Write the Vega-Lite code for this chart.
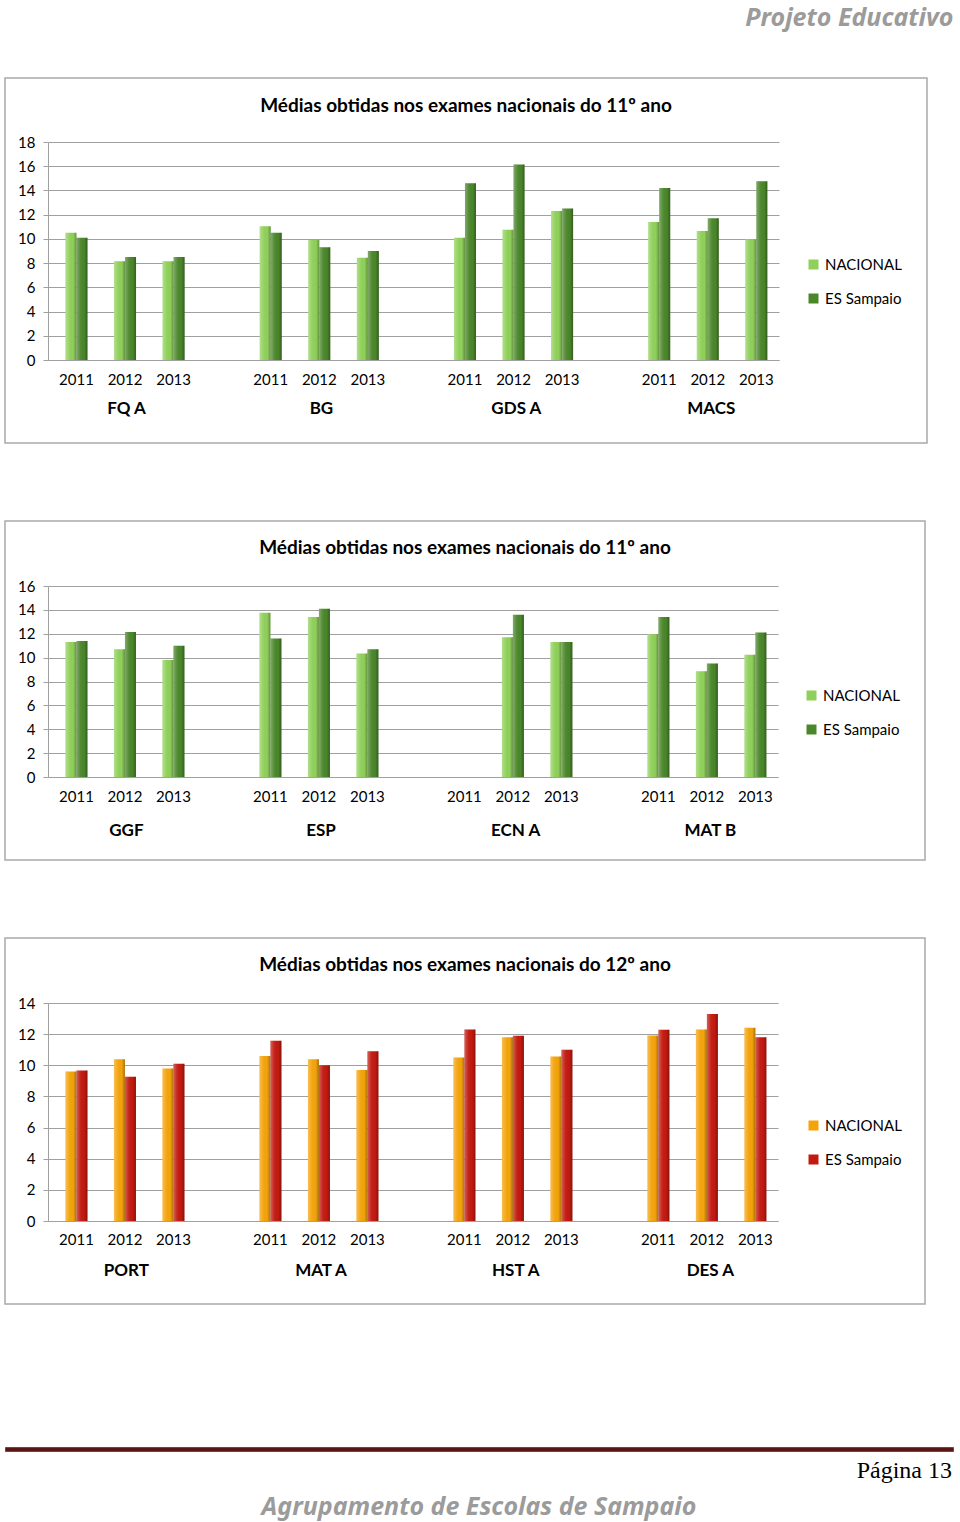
{
  "$schema": "https://vega.github.io/schema/vega-lite/v6.json",
  "padding": {"left": 4, "top": 6, "right": 8, "bottom": 0},
  "background": "white",
  "title": {"text": "Projeto Educativo", "anchor": "end", "frame": "bounds", "font": "Noto Sans", "fontStyle": "italic", "fontWeight": "bold", "fontSize": 25, "color": "#9b9b9b", "offset": 46, "baseline": "top"},
  "datasets": {
    "p1": [
      {"cat": "FQ A|2011", "series": "NACIONAL", "value": 10.5},
      {"cat": "FQ A|2011", "series": "ES Sampaio", "value": 10.1},
      {"cat": "FQ A|2012", "series": "NACIONAL", "value": 8.15},
      {"cat": "FQ A|2012", "series": "ES Sampaio", "value": 8.5},
      {"cat": "FQ A|2013", "series": "NACIONAL", "value": 8.15},
      {"cat": "FQ A|2013", "series": "ES Sampaio", "value": 8.5},
      {"cat": "BG|2011", "series": "NACIONAL", "value": 11.05},
      {"cat": "BG|2011", "series": "ES Sampaio", "value": 10.5},
      {"cat": "BG|2012", "series": "NACIONAL", "value": 9.9},
      {"cat": "BG|2012", "series": "ES Sampaio", "value": 9.3},
      {"cat": "BG|2013", "series": "NACIONAL", "value": 8.45},
      {"cat": "BG|2013", "series": "ES Sampaio", "value": 9.0},
      {"cat": "GDS A|2011", "series": "NACIONAL", "value": 10.1},
      {"cat": "GDS A|2011", "series": "ES Sampaio", "value": 14.6},
      {"cat": "GDS A|2012", "series": "NACIONAL", "value": 10.75},
      {"cat": "GDS A|2012", "series": "ES Sampaio", "value": 16.15},
      {"cat": "GDS A|2013", "series": "NACIONAL", "value": 12.3},
      {"cat": "GDS A|2013", "series": "ES Sampaio", "value": 12.5},
      {"cat": "MACS|2011", "series": "NACIONAL", "value": 11.4},
      {"cat": "MACS|2011", "series": "ES Sampaio", "value": 14.2},
      {"cat": "MACS|2012", "series": "NACIONAL", "value": 10.65},
      {"cat": "MACS|2012", "series": "ES Sampaio", "value": 11.7},
      {"cat": "MACS|2013", "series": "NACIONAL", "value": 9.95},
      {"cat": "MACS|2013", "series": "ES Sampaio", "value": 14.75}
    ],
    "p2": [
      {"cat": "GGF|2011", "series": "NACIONAL", "value": 11.3},
      {"cat": "GGF|2011", "series": "ES Sampaio", "value": 11.4},
      {"cat": "GGF|2012", "series": "NACIONAL", "value": 10.7},
      {"cat": "GGF|2012", "series": "ES Sampaio", "value": 12.15},
      {"cat": "GGF|2013", "series": "NACIONAL", "value": 9.8},
      {"cat": "GGF|2013", "series": "ES Sampaio", "value": 11.0},
      {"cat": "ESP|2011", "series": "NACIONAL", "value": 13.75},
      {"cat": "ESP|2011", "series": "ES Sampaio", "value": 11.6},
      {"cat": "ESP|2012", "series": "NACIONAL", "value": 13.4},
      {"cat": "ESP|2012", "series": "ES Sampaio", "value": 14.1},
      {"cat": "ESP|2013", "series": "NACIONAL", "value": 10.35},
      {"cat": "ESP|2013", "series": "ES Sampaio", "value": 10.7},
      {"cat": "ECN A|2012", "series": "NACIONAL", "value": 11.7},
      {"cat": "ECN A|2012", "series": "ES Sampaio", "value": 13.6},
      {"cat": "ECN A|2013", "series": "NACIONAL", "value": 11.3},
      {"cat": "ECN A|2013", "series": "ES Sampaio", "value": 11.3},
      {"cat": "MAT B|2011", "series": "NACIONAL", "value": 11.95},
      {"cat": "MAT B|2011", "series": "ES Sampaio", "value": 13.4},
      {"cat": "MAT B|2012", "series": "NACIONAL", "value": 8.85},
      {"cat": "MAT B|2012", "series": "ES Sampaio", "value": 9.5},
      {"cat": "MAT B|2013", "series": "NACIONAL", "value": 10.25},
      {"cat": "MAT B|2013", "series": "ES Sampaio", "value": 12.1}
    ],
    "p3": [
      {"cat": "PORT|2011", "series": "NACIONAL", "value": 9.6},
      {"cat": "PORT|2011", "series": "ES Sampaio", "value": 9.67},
      {"cat": "PORT|2012", "series": "NACIONAL", "value": 10.38},
      {"cat": "PORT|2012", "series": "ES Sampaio", "value": 9.26},
      {"cat": "PORT|2013", "series": "NACIONAL", "value": 9.8},
      {"cat": "PORT|2013", "series": "ES Sampaio", "value": 10.1},
      {"cat": "MAT A|2011", "series": "NACIONAL", "value": 10.6},
      {"cat": "MAT A|2011", "series": "ES Sampaio", "value": 11.58},
      {"cat": "MAT A|2012", "series": "NACIONAL", "value": 10.38},
      {"cat": "MAT A|2012", "series": "ES Sampaio", "value": 10.0},
      {"cat": "MAT A|2013", "series": "NACIONAL", "value": 9.7},
      {"cat": "MAT A|2013", "series": "ES Sampaio", "value": 10.9},
      {"cat": "HST A|2011", "series": "NACIONAL", "value": 10.5},
      {"cat": "HST A|2011", "series": "ES Sampaio", "value": 12.3},
      {"cat": "HST A|2012", "series": "NACIONAL", "value": 11.8},
      {"cat": "HST A|2012", "series": "ES Sampaio", "value": 11.9},
      {"cat": "HST A|2013", "series": "NACIONAL", "value": 10.57},
      {"cat": "HST A|2013", "series": "ES Sampaio", "value": 11.0},
      {"cat": "DES A|2011", "series": "NACIONAL", "value": 11.92},
      {"cat": "DES A|2011", "series": "ES Sampaio", "value": 12.29},
      {"cat": "DES A|2012", "series": "NACIONAL", "value": 12.3},
      {"cat": "DES A|2012", "series": "ES Sampaio", "value": 13.3},
      {"cat": "DES A|2013", "series": "NACIONAL", "value": 12.41},
      {"cat": "DES A|2013", "series": "ES Sampaio", "value": 11.8}
    ],
    "foot": [{"t": "Agrupamento de Escolas de Sampaio"}],
    "blank": [{"t": ""}]
  },
  "spacing": 137,
  "resolve": {"scale": {"color": "independent"}, "legend": {"color": "independent"}},
  "vconcat": [
    {
      "spacing": 76,
      "resolve": {"scale": {"color": "independent"}, "legend": {"color": "independent"}},
      "vconcat": [
        {
          "width": 922, "height": 365,
          "view": {"stroke": "#a9a9a9", "strokeWidth": 1.5, "fill": "white"},
          "title": {"text": "Médias obtidas nos exames nacionais do 11º ano", "frame": "group", "anchor": "middle", "orient": "top", "offset": -47, "baseline": "middle", "fontSize": 19, "fontWeight": "bold", "font": "Lato", "color": "black"},
          "data": {"name": "p1"},
          "layer": [
            {
              "layer": [
                {
                  "mark": {"type": "bar"},
                  "encoding": {
                    "x": {"field": "cat", "type": "nominal", "sort": null,
                      "scale": {"domain": ["FQ A|2011", "FQ A|2012", "FQ A|2013", "_1", "BG|2011", "BG|2012", "BG|2013", "_2", "GDS A|2011", "GDS A|2012", "GDS A|2013", "_3", "MACS|2011", "MACS|2012", "MACS|2013"], "range": [43, 774], "paddingInner": 0.547, "paddingOuter": 0.3, "align": 0.6},
                      "axis": {"orient": "bottom", "offset": -83, "labelExpr": "indexof(datum.value,'|') > 0 ? split(datum.value,'|')[1] : ''", "ticks": false, "labelPadding": 12, "labelFontSize": 15, "labelColor": "black", "grid": false, "title": null, "labelAngle": 0, "domainColor": "#a0a0a0", "labelOverlap": false}},
                    "xOffset": {"field": "series", "type": "nominal", "scale": {"domain": ["NACIONAL", "ES Sampaio"], "paddingInner": 0, "paddingOuter": 0}},
                    "y": {"field": "value", "type": "quantitative", "scale": {"domain": [0, 18], "range": [282, 64], "nice": false},
                      "axis": {"orient": "left", "offset": -43, "values": [0, 2, 4, 6, 8, 10, 12, 14, 16, 18], "grid": true, "gridColor": "#a0a0a0", "domainColor": "#a0a0a0", "tickColor": "#a0a0a0", "tickSize": 5, "labelPadding": 8, "labelFontSize": 15, "labelColor": "black", "title": null}},
                    "color": {"field": "series", "type": "nominal", "scale": {"domain": ["NACIONAL", "ES Sampaio"], "range": ["#8fd05a", "#4a862a"]},
                      "legend": {"orient": "none", "legendX": 801, "legendY": 179, "title": null, "symbolType": "square", "symbolSize": 100, "labelFontSize": 15, "rowPadding": 18, "padding": 0, "labelOffset": 4, "symbolStrokeWidth": 0, "labelColor": "black"}}
                  }
                },
                {
                  "mark": {"type": "bar", "fill": {"gradient": "linear", "x1": 0, "y1": 0, "x2": 1, "y2": 0, "stops": [{"offset": 0, "color": "rgba(255,255,255,0.3)"}, {"offset": 0.35, "color": "rgba(255,255,255,0.05)"}, {"offset": 0.7, "color": "rgba(0,0,0,0)"}, {"offset": 1, "color": "rgba(0,0,0,0.3)"}]}},
                  "encoding": {
                    "x": {"field": "cat", "type": "nominal", "sort": null},
                    "xOffset": {"field": "series", "type": "nominal"},
                    "y": {"field": "value", "type": "quantitative"}
                  }
                }
              ]
            },
            {
              "mark": {"type": "text"},
              "encoding": {
                "x": {"field": "cat", "type": "nominal", "sort": null,
                  "scale": {"domain": ["FQ A|2011", "FQ A|2012", "FQ A|2013", "_1", "BG|2011", "BG|2012", "BG|2013", "_2", "GDS A|2011", "GDS A|2012", "GDS A|2013", "_3", "MACS|2011", "MACS|2012", "MACS|2013"], "range": [43, 774], "paddingInner": 0.547, "paddingOuter": 0.3, "align": 0.6},
                  "axis": {"orient": "bottom", "offset": -83, "labelExpr": "indexof(datum.value,'|2012') > 0 ? split(datum.value,'|')[0] : ''", "ticks": false, "domain": false, "grid": false, "labelPadding": 40, "labelFontSize": 17, "labelFontWeight": "bold", "labelColor": "black", "title": null, "labelAngle": 0, "labelOverlap": false}},
                "text": {"value": ""}
              }
            }
          ],
          "resolve": {"scale": {"x": "independent"}, "axis": {"x": "independent"}}
        },
        {
          "width": 920, "height": 339,
          "view": {"stroke": "#a9a9a9", "strokeWidth": 1.5, "fill": "white"},
          "title": {"text": "Médias obtidas nos exames nacionais do 11º ano", "frame": "group", "anchor": "middle", "orient": "top", "offset": -46, "baseline": "middle", "fontSize": 19, "fontWeight": "bold", "font": "Lato", "color": "black"},
          "data": {"name": "p2"},
          "layer": [
            {
              "layer": [
                {
                  "mark": {"type": "bar"},
                  "encoding": {
                    "x": {"field": "cat", "type": "nominal", "sort": null,
                      "scale": {"domain": ["GGF|2011", "GGF|2012", "GGF|2013", "_1", "ESP|2011", "ESP|2012", "ESP|2013", "_2", "ECN A|2011", "ECN A|2012", "ECN A|2013", "_3", "MAT B|2011", "MAT B|2012", "MAT B|2013"], "range": [43, 773], "paddingInner": 0.547, "paddingOuter": 0.3, "align": 0.6},
                      "axis": {"orient": "bottom", "offset": -83, "labelExpr": "indexof(datum.value,'|') > 0 ? split(datum.value,'|')[1] : ''", "ticks": false, "labelPadding": 12, "labelFontSize": 15, "labelColor": "black", "grid": false, "title": null, "labelAngle": 0, "domainColor": "#a0a0a0", "labelOverlap": false}},
                    "xOffset": {"field": "series", "type": "nominal", "scale": {"domain": ["NACIONAL", "ES Sampaio"], "paddingInner": 0, "paddingOuter": 0}},
                    "y": {"field": "value", "type": "quantitative", "scale": {"domain": [0, 16], "range": [256, 65], "nice": false},
                      "axis": {"orient": "left", "offset": -43, "values": [0, 2, 4, 6, 8, 10, 12, 14, 16], "grid": true, "gridColor": "#a0a0a0", "domainColor": "#a0a0a0", "tickColor": "#a0a0a0", "tickSize": 5, "labelPadding": 8, "labelFontSize": 15, "labelColor": "black", "title": null}},
                    "color": {"field": "series", "type": "nominal", "scale": {"domain": ["NACIONAL", "ES Sampaio"], "range": ["#8fd05a", "#4a862a"]},
                      "legend": {"orient": "none", "legendX": 799, "legendY": 167, "title": null, "symbolType": "square", "symbolSize": 100, "labelFontSize": 15, "rowPadding": 18, "padding": 0, "labelOffset": 4, "symbolStrokeWidth": 0, "labelColor": "black"}}
                  }
                },
                {
                  "mark": {"type": "bar", "fill": {"gradient": "linear", "x1": 0, "y1": 0, "x2": 1, "y2": 0, "stops": [{"offset": 0, "color": "rgba(255,255,255,0.3)"}, {"offset": 0.35, "color": "rgba(255,255,255,0.05)"}, {"offset": 0.7, "color": "rgba(0,0,0,0)"}, {"offset": 1, "color": "rgba(0,0,0,0.3)"}]}},
                  "encoding": {
                    "x": {"field": "cat", "type": "nominal", "sort": null},
                    "xOffset": {"field": "series", "type": "nominal"},
                    "y": {"field": "value", "type": "quantitative"}
                  }
                }
              ]
            },
            {
              "mark": {"type": "text"},
              "encoding": {
                "x": {"field": "cat", "type": "nominal", "sort": null,
                  "scale": {"domain": ["GGF|2011", "GGF|2012", "GGF|2013", "_1", "ESP|2011", "ESP|2012", "ESP|2013", "_2", "ECN A|2011", "ECN A|2012", "ECN A|2013", "_3", "MAT B|2011", "MAT B|2012", "MAT B|2013"], "range": [43, 773], "paddingInner": 0.547, "paddingOuter": 0.3, "align": 0.6},
                  "axis": {"orient": "bottom", "offset": -83, "labelExpr": "indexof(datum.value,'|2012') > 0 ? split(datum.value,'|')[0] : ''", "ticks": false, "domain": false, "grid": false, "labelPadding": 45, "labelFontSize": 17, "labelFontWeight": "bold", "labelColor": "black", "title": null, "labelAngle": 0, "labelOverlap": false}},
                "text": {"value": ""}
              }
            }
          ],
          "resolve": {"scale": {"x": "independent"}, "axis": {"x": "independent"}}
        },
        {
          "width": 920, "height": 366,
          "view": {"stroke": "#a9a9a9", "strokeWidth": 1.5, "fill": "white"},
          "title": {"text": "Médias obtidas nos exames nacionais do 12º ano", "frame": "group", "anchor": "middle", "orient": "top", "offset": -46, "baseline": "middle", "fontSize": 19, "fontWeight": "bold", "font": "Lato", "color": "black"},
          "data": {"name": "p3"},
          "layer": [
            {
              "layer": [
                {
                  "mark": {"type": "bar"},
                  "encoding": {
                    "x": {"field": "cat", "type": "nominal", "sort": null,
                      "scale": {"domain": ["PORT|2011", "PORT|2012", "PORT|2013", "_1", "MAT A|2011", "MAT A|2012", "MAT A|2013", "_2", "HST A|2011", "HST A|2012", "HST A|2013", "_3", "DES A|2011", "DES A|2012", "DES A|2013"], "range": [43, 773], "paddingInner": 0.547, "paddingOuter": 0.3, "align": 0.6},
                      "axis": {"orient": "bottom", "offset": -83, "labelExpr": "indexof(datum.value,'|') > 0 ? split(datum.value,'|')[1] : ''", "ticks": false, "labelPadding": 11, "labelFontSize": 15, "labelColor": "black", "grid": false, "title": null, "labelAngle": 0, "domainColor": "#a0a0a0", "labelOverlap": false}},
                    "xOffset": {"field": "series", "type": "nominal", "scale": {"domain": ["NACIONAL", "ES Sampaio"], "paddingInner": 0, "paddingOuter": 0}},
                    "y": {"field": "value", "type": "quantitative", "scale": {"domain": [0, 14], "range": [283, 65], "nice": false},
                      "axis": {"orient": "left", "offset": -43, "values": [0, 2, 4, 6, 8, 10, 12, 14], "grid": true, "gridColor": "#a0a0a0", "domainColor": "#a0a0a0", "tickColor": "#a0a0a0", "tickSize": 5, "labelPadding": 8, "labelFontSize": 15, "labelColor": "black", "title": null}},
                    "color": {"field": "series", "type": "nominal", "scale": {"domain": ["NACIONAL", "ES Sampaio"], "range": ["#f4a30a", "#c21a10"]},
                      "legend": {"orient": "none", "legendX": 801, "legendY": 180, "title": null, "symbolType": "square", "symbolSize": 100, "labelFontSize": 15, "rowPadding": 18, "padding": 0, "labelOffset": 4, "symbolStrokeWidth": 0, "labelColor": "black"}}
                  }
                },
                {
                  "mark": {"type": "bar", "fill": {"gradient": "linear", "x1": 0, "y1": 0, "x2": 1, "y2": 0, "stops": [{"offset": 0, "color": "rgba(255,255,255,0.3)"}, {"offset": 0.35, "color": "rgba(255,255,255,0.05)"}, {"offset": 0.7, "color": "rgba(0,0,0,0)"}, {"offset": 1, "color": "rgba(0,0,0,0.3)"}]}},
                  "encoding": {
                    "x": {"field": "cat", "type": "nominal", "sort": null},
                    "xOffset": {"field": "series", "type": "nominal"},
                    "y": {"field": "value", "type": "quantitative"}
                  }
                }
              ]
            },
            {
              "mark": {"type": "text"},
              "encoding": {
                "x": {"field": "cat", "type": "nominal", "sort": null,
                  "scale": {"domain": ["PORT|2011", "PORT|2012", "PORT|2013", "_1", "MAT A|2011", "MAT A|2012", "MAT A|2013", "_2", "HST A|2011", "HST A|2012", "HST A|2013", "_3", "DES A|2011", "DES A|2012", "DES A|2013"], "range": [43, 773], "paddingInner": 0.547, "paddingOuter": 0.3, "align": 0.6},
                  "axis": {"orient": "bottom", "offset": -83, "labelExpr": "indexof(datum.value,'|2012') > 0 ? split(datum.value,'|')[0] : ''", "ticks": false, "domain": false, "grid": false, "labelPadding": 41, "labelFontSize": 17, "labelFontWeight": "bold", "labelColor": "black", "title": null, "labelAngle": 0, "labelOverlap": false}},
                "text": {"value": ""}
              }
            }
          ],
          "resolve": {"scale": {"x": "independent"}, "axis": {"x": "independent"}}
        }
      ]
    },
    {
      "spacing": 8,
      "vconcat": [
        {
          "width": 948, "height": 4,
          "view": {"fill": "#5a1414", "stroke": "#8b3a3a", "strokeWidth": 1},
          "title": {"text": "Página 13", "orient": "bottom", "anchor": "end", "frame": "group", "font": "Liberation Serif", "fontSize": 24, "fontWeight": "normal", "color": "black", "offset": 5, "baseline": "top", "dx": -1},
          "data": {"name": "blank"},
          "mark": {"type": "text"},
          "encoding": {"text": {"field": "t"}}
        },
        {
          "width": 948, "height": 30,
          "data": {"name": "foot"},
          "mark": {"type": "text", "font": "Noto Sans", "fontStyle": "italic", "fontWeight": "bold", "fontSize": 25, "color": "#9b9b9b", "baseline": "middle"},
          "encoding": {"text": {"field": "t"}}
        }
      ]
    }
  ],
  "config": {"font": "Lato", "view": {"stroke": null}}
}
